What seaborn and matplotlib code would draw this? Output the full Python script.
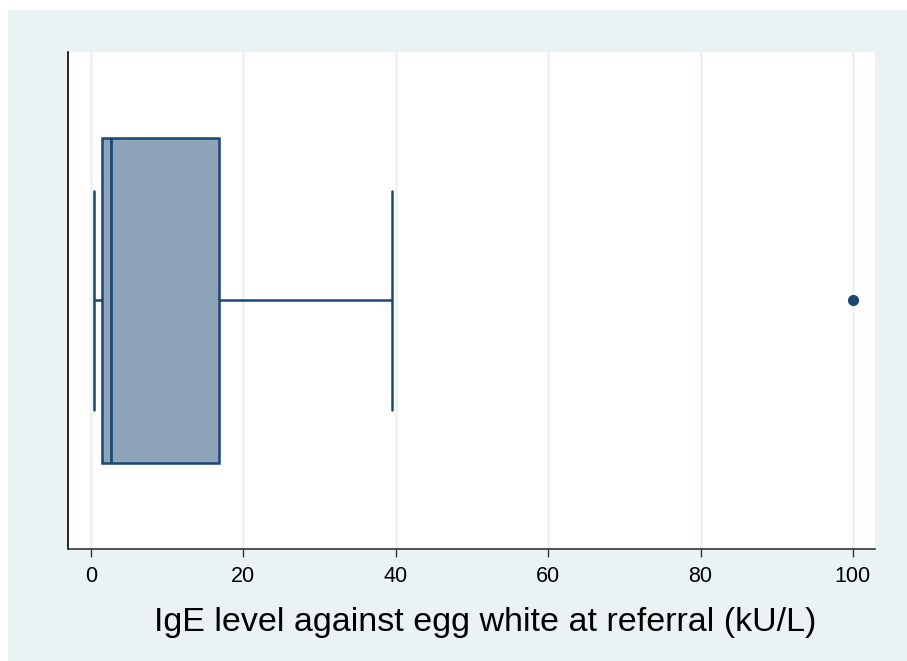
import matplotlib
matplotlib.use("Agg")
import matplotlib.pyplot as plt
import seaborn as sns
import pandas as pd
from matplotlib.patches import Rectangle

# Values (kU/L); quartiles ~1.4 / 2.6 / 16.8, whiskers 0.35-39.5, outlier 100
ige_values = [0.35, 0.9, 1.4, 2.0, 2.6, 8.0, 16.8, 39.5, 100.0]
xticks = [0, 20, 40, 60, 80, 100]
xlabel = "IgE level against egg white at referral (kU/L)"

navy = "#1A476F"
fill = "#8CA3B8"
panel = "#EAF2F3"

sns.set_theme(style="white")
plt.rcParams['font.family'] = ['Liberation Sans Narrow', 'Liberation Sans', 'DejaVu Sans']

fig = plt.figure(figsize=(9.07, 6.61), dpi=100)
fig.patch.set_facecolor("white")
fig.add_artist(Rectangle((8/907, 0), 1, (661-10)/661, transform=fig.transFigure,
                         facecolor=panel, edgecolor="none", zorder=-5))
ax = fig.add_axes([68/907, (661-549)/661, (875-68)/907, (549-51.5)/661])
ax.set_zorder(2)
ax.set_facecolor("white")

df = pd.DataFrame({"ige": ige_values})
sns.boxplot(data=df, x="ige", ax=ax, orient="h", width=0.653, whis=1.5,
            color=fill, linecolor=navy, linewidth=1.8, fliersize=7,
            capwidths=0.44,
            boxprops=dict(facecolor=fill, edgecolor=navy, alpha=1),
            flierprops=dict(marker="o", markerfacecolor=navy, markeredgecolor=navy),
            medianprops=dict(color=navy, linewidth=2))

ax.set_xlim(-3.02, 102.9)
ax.set_ylim(0.5, -0.5)
ax.set_xticks(xticks)
ax.set_xticklabels([str(t) for t in xticks], fontsize=15.5, color="black")
ax.set_yticks([])
ax.set_ylabel("")
ax.set_xlabel(xlabel, fontsize=24.5, labelpad=15, color="black")
ax.xaxis.label.set_x(0.517)
ax.grid(axis="x", color=panel, linewidth=1.8, zorder=0)
ax.set_axisbelow(True)
ax.tick_params(axis="x", direction="out", length=6, width=1, color="#333333", bottom=True, pad=6)
for s in ["top", "right"]:
    ax.spines[s].set_visible(False)
ax.spines["left"].set_color("black")
ax.spines["left"].set_linewidth(1.2)
ax.spines["bottom"].set_color("#333333")
ax.spines["bottom"].set_linewidth(1.2)

fig.savefig("out.png", dpi=100, facecolor=fig.get_facecolor())
